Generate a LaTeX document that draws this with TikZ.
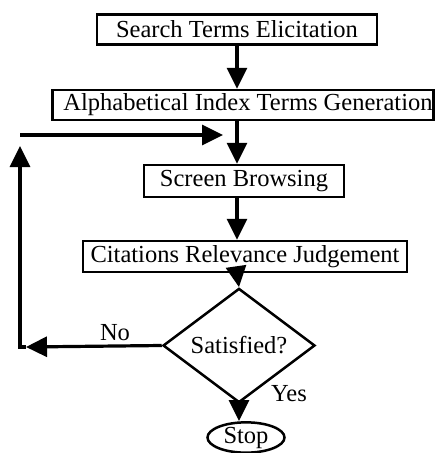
\documentclass[tikz,border=0pt]{standalone}
\usepackage{fontspec}
\setmainfont{Liberation Serif}
\usetikzlibrary{arrows.meta,shapes.geometric}
\begin{document}
\begin{tikzpicture}[x=1pt,y=-1pt,
  txt/.style={font=\fontsize{24.5}{24.5}\selectfont},
  proc/.style={txt,draw,line width=2.5pt,inner sep=0pt,minimum height=30pt},
  flow/.style={line width=3.2pt,-{Triangle[length=21pt,width=20pt]}},
  wire/.style={line width=3.2pt}]
\useasboundingbox (0,0) rectangle (435,453);

% process boxes
\node[proc,minimum width=280pt] (elicit) at (237,29.5) {Search Terms Elicitation};
\node[proc,minimum width=381pt] (alpha)  at (243,105) {\hspace*{10pt}Alphabetical Index Terms Generation};
\node[proc,minimum width=200pt,minimum height=32pt] (screen) at (244,181) {Screen Browsing};
\node[proc,minimum width=324pt,minimum height=31pt] (judge)  at (245,256.5) {Citations Relevance Judgement};

% decision and terminal
\node[txt,draw,shape=diamond,line width=2.5pt,inner sep=0pt,
      minimum width=152pt,minimum height=61pt] (sat) at (239,345.5) {Satisfied?};
\node[txt,draw,ellipse,line width=2.5pt,inner sep=0pt,
      minimum width=77pt,minimum height=29pt] (stop) at (246,437.5) {Stop};

% main column
\coordinate (col) at (237,0);
\draw[flow] (col |- elicit.south) -- (col |- alpha.north);
\draw[flow] (col |- alpha.south)  -- (col |- screen.north);
\draw[flow] (col |- screen.south) -- (col |- judge.north);
\draw[flow] (col |- judge.south)  -- (sat.north);
\draw[flow] (sat.south) -- (stop.north -| sat.south);

% feedback loop
\coordinate (ltip) at (26,347);
\coordinate (bl)   at (20,347);
\coordinate (utip) at (20,146);
\coordinate (tl)   at (20,135);
\coordinate (join) at (223,135);
\draw[flow] (sat.west) -- (ltip);
\draw[flow,line join=miter] (ltip) -- (bl) -- (utip);
\draw[flow] (tl) -- (join);

% branch labels
\node[txt] (no)  at (115,333) {No};
\node[txt] (yes) at (289,394) {Yes};
\end{tikzpicture}
\end{document}
